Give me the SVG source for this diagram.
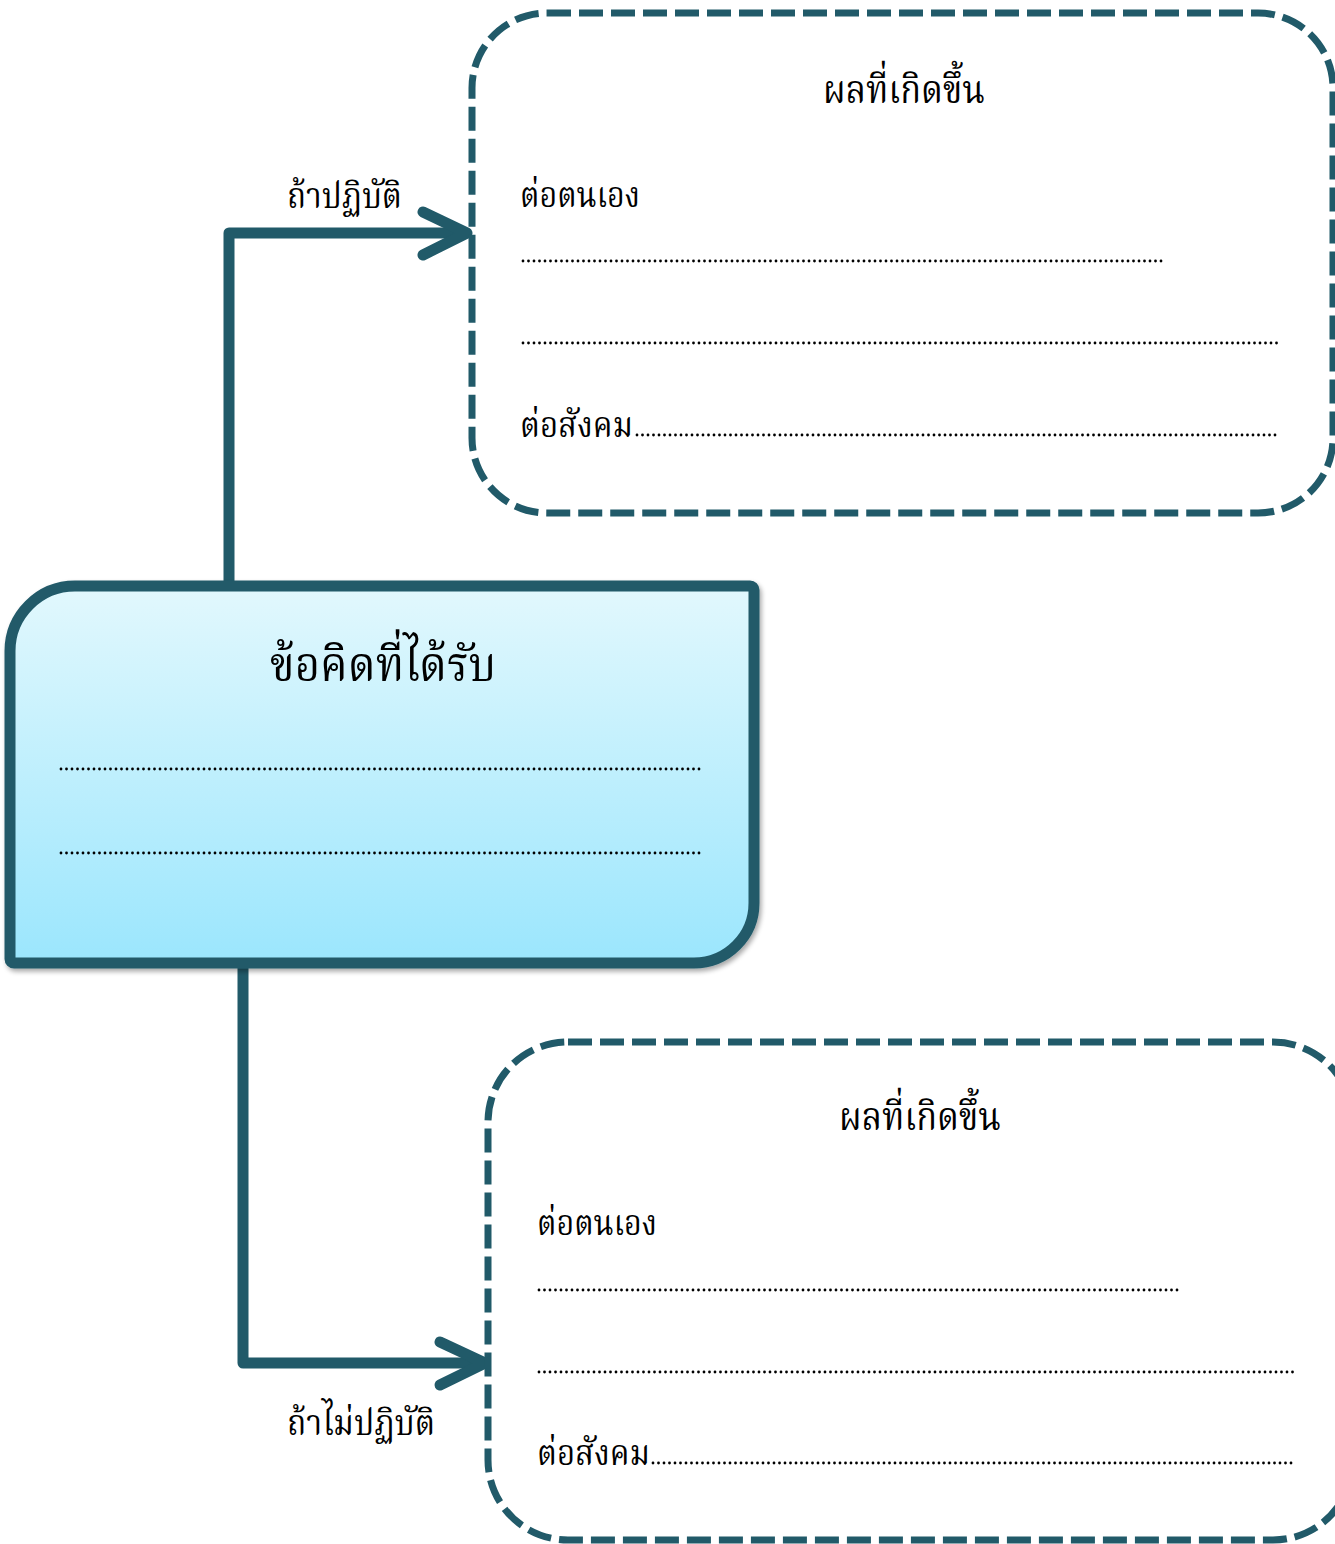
<svg xmlns="http://www.w3.org/2000/svg" width="1335" height="1544" viewBox="0 0 1335 1544">
<style>
.t{font-family:"Noto Serif Thai","Noto Sans Thai","Liberation Serif",serif;fill:#000;}
.lbl{font-size:36px;}
.ttl{font-size:40px;}
.big{font-size:49px;}
.dash{fill:none;stroke:#215A69;stroke-width:7;stroke-dasharray:24 8;}
.dots{fill:none;stroke:#000;stroke-width:2.8;stroke-linecap:round;stroke-dasharray:0 5.5;}
.conn{fill:none;stroke:#215A69;stroke-width:11;stroke-linejoin:round;stroke-linecap:round;}
</style>
<defs>
<linearGradient id="g" x1="0" y1="0" x2="0" y2="1">
<stop offset="0" stop-color="#E2F8FD"/>
<stop offset="1" stop-color="#9BE6FD"/>
</linearGradient>
<filter id="sh" x="-5%" y="-5%" width="115%" height="115%">
<feGaussianBlur in="SourceAlpha" stdDeviation="2.5"/>
<feOffset dx="2" dy="3" result="b"/>
<feComponentTransfer><feFuncA type="linear" slope="0.35"/></feComponentTransfer>
<feMerge><feMergeNode/><feMergeNode in="SourceGraphic"/></feMerge>
</filter>
</defs>
<rect width="1335" height="1544" fill="#fff"/>
<g id="connectors">
<path class="conn" d="M229,585 V233 H465"/>
<path class="conn" d="M423,212 L467,233 L423,255"/>
<path class="conn" d="M243,963 V1363 H483"/>
<path class="conn" d="M440,1342 L485,1363 L440,1385"/>
<text class="t lbl" x="287" y="208" textLength="115" lengthAdjust="spacingAndGlyphs">ถ้าปฏิบัติ</text>
<text class="t lbl" x="287" y="1435" textLength="148" lengthAdjust="spacingAndGlyphs">ถ้าไม่ปฏิบัติ</text>
</g>
<g id="result-top">
<rect class="dash" x="472" y="13" width="861" height="500" rx="75"/>
<text class="t ttl" x="823" y="103" textLength="162" lengthAdjust="spacingAndGlyphs">ผลที่เกิดขึ้น</text>
<text class="t lbl" x="520" y="207" textLength="120" lengthAdjust="spacingAndGlyphs">ต่อตนเอง</text>
<line class="dots" x1="523" y1="261" x2="1164" y2="261"/>
<line class="dots" x1="523" y1="343" x2="1281" y2="343"/>
<text class="t lbl" x="520" y="437" textLength="113" lengthAdjust="spacingAndGlyphs">ต่อสังคม</text>
<line class="dots" x1="637" y1="435" x2="1279" y2="435"/>
</g>
<g id="idea" filter="url(#sh)">
<path d="M10,651 A65,65 0 0 1 75,586 H750 A4,4 0 0 1 754,590 V903 A60,60 0 0 1 694,963 H14 A4,4 0 0 1 10,959 Z" fill="url(#g)" stroke="#215A69" stroke-width="11"/>
<text class="t big" x="270" y="681" textLength="226" lengthAdjust="spacingAndGlyphs">ข้อคิดที่ได้รับ</text>
<line class="dots" x1="61" y1="769" x2="704" y2="769"/>
<line class="dots" x1="61" y1="853" x2="703" y2="853"/>
</g>
<g id="result-bottom">
<rect class="dash" x="488" y="1042" width="865" height="498" rx="80"/>
<text class="t ttl" x="839" y="1130" textLength="162" lengthAdjust="spacingAndGlyphs">ผลที่เกิดขึ้น</text>
<text class="t lbl" x="537" y="1235" textLength="120" lengthAdjust="spacingAndGlyphs">ต่อตนเอง</text>
<line class="dots" x1="539" y1="1290" x2="1180" y2="1290"/>
<line class="dots" x1="539" y1="1372" x2="1297" y2="1372"/>
<text class="t lbl" x="537" y="1465" textLength="113" lengthAdjust="spacingAndGlyphs">ต่อสังคม</text>
<line class="dots" x1="653" y1="1463" x2="1294" y2="1463"/>
</g>
</svg>
